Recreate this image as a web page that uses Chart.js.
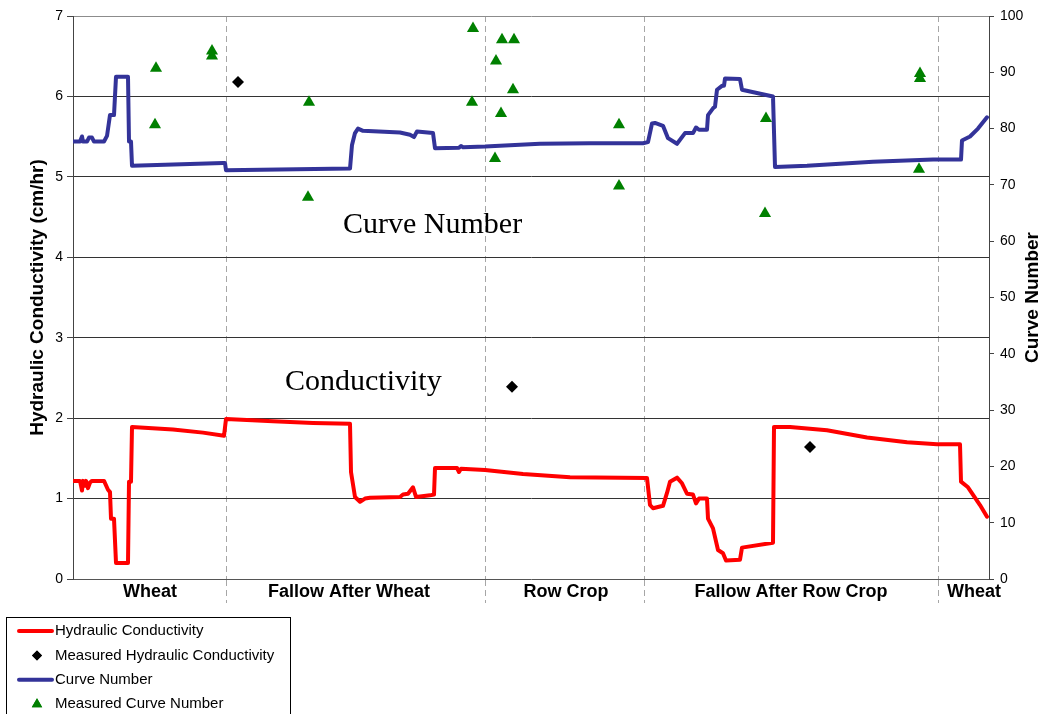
<!DOCTYPE html>
<html>
<head>
<meta charset="utf-8">
<title>Hydraulic Conductivity and Curve Number</title>
<script src="https://cdn.jsdelivr.net/npm/chart.js@4.4.1/dist/chart.umd.min.js"></script>
<style>
  html, body { margin: 0; padding: 0; background: #fff; }
  #wrap { width: 1044px; height: 714px; }
</style>
</head>
<body>
<div id="wrap"><canvas id="chart" width="1044" height="714"></canvas></div>
<script>
// Days since start of record (x)

// Hydraulic conductivity, cm/hr (left axis)
var hcDays = [0, 7, 9, 10, 12, 13, 15, 17, 19, 31, 35, 37, 38, 41, 43, 55, 56, 58, 59, 100, 130, 151,
  153, 200, 240, 277, 278, 282, 287, 292, 297, 327, 330, 335, 340, 343, 357, 361, 362, 384, 386, 388,
  412, 450, 497, 574, 577, 580, 590, 594, 597, 604, 609, 614, 620, 623, 626, 634, 635, 640, 645, 650,
  653, 667, 669, 700, 701, 717, 754, 794, 834, 864, 887, 888, 895, 907, 914];
var hcVals = [1.22, 1.22, 1.10, 1.22, 1.16, 1.22, 1.13, 1.20, 1.22, 1.22, 1.11, 1.08, 0.75, 0.75, 0.20, 0.20, 1.21, 1.21, 1.89, 1.86, 1.82, 1.78,
  1.99, 1.96, 1.94, 1.93, 1.33, 1.02, 0.96, 1.00, 1.01, 1.02, 1.05, 1.06, 1.14, 1.02, 1.04, 1.05, 1.38, 1.38, 1.33, 1.37,
  1.355, 1.305, 1.265, 1.256, 0.92, 0.88, 0.91, 1.07, 1.21, 1.26, 1.19, 1.06, 1.05, 0.94, 1.00, 1.00, 0.75, 0.63, 0.36, 0.32,
  0.23, 0.24, 0.39, 0.45, 1.89, 1.89, 1.85, 1.76, 1.70, 1.675, 1.675, 1.21, 1.14, 0.92, 0.775];

// Curve number (right axis)
var cnDays = [0, 7, 9, 10, 14, 16, 19, 21, 31, 34, 37, 41, 43, 55, 56, 58, 59, 150, 152, 153, 277, 279,
  282, 285, 290, 327, 337, 341, 344, 360, 362, 386, 388, 390, 412, 467, 517, 570, 575, 579, 582, 590,
  595, 604, 612, 620, 623, 626, 634, 635, 640, 642, 644, 649, 651, 652, 667, 669, 700, 702, 734, 800,
  860, 888, 889, 897, 905, 914];
var cnVals = [77.7, 77.7, 78.6, 77.7, 77.7, 78.4, 78.4, 77.7, 77.7, 78.7, 82.4, 82.4, 89.2, 89.2, 77.7, 77.7, 73.4, 73.9, 73.9, 72.6, 72.9, 77.1,
  79.2, 80.0, 79.6, 79.3, 78.9, 78.5, 79.5, 79.2, 76.5, 76.6, 76.9, 76.7, 76.8, 77.3, 77.4, 77.4, 77.6, 80.9, 81.0, 80.5,
  78.3, 77.3, 79.2, 79.2, 80.2, 79.8, 79.8, 82.4, 83.6, 83.9, 86.9, 87.6, 87.6, 88.9, 88.8, 86.9, 85.7, 73.2, 73.4, 74.1,
  74.5, 74.5, 77.9, 78.6, 80.0, 82.0];

// Measurements
var measHcDays = [165, 439, 737];
var measHcVals = [6.18, 2.39, 1.64];
var measCnDays = [83, 82, 139, 139, 236, 235, 400, 429, 441, 423, 440, 399, 428, 546, 422, 546, 693, 692, 847, 847, 846];
var measCnVals = [90.7, 80.7, 93.8, 92.9, 84.7, 67.8, 97.8, 95.8, 95.8, 92.0, 86.9, 84.7, 82.7, 80.7, 74.7, 69.8, 81.8, 64.9, 89.8, 88.9, 72.8];

// Crop periods along the x axis
var periodLabels = ['Wheat', 'Fallow After Wheat', 'Row Crop', 'Fallow After Row Crop', 'Wheat'];
var periodCenters = [77, 276, 493, 718, 901];
var periodBounds = [153, 412, 571, 865];

// Tick values for the two y axes
var hcTicks = [0, 1, 2, 3, 4, 5, 6, 7];
var cnTicks = [0, 10, 20, 30, 40, 50, 60, 70, 80, 90, 100];

var notes = [
  { text: 'Curve Number', day: 270, value: 4.40 },
  { text: 'Conductivity', day: 212, value: 2.45 }
];

var SANS = "'Liberation Sans', Arial, sans-serif";

function pts(xs, ys) {
  return xs.map(function(x, i) { return { x: x, y: ys[i] }; });
}

var xTickVals = periodBounds.concat(periodCenters).sort(function(a, b) { return a - b; });

// Axis titles, text notes and the boxed legend
var extras = {
  id: 'extras',
  afterDatasetsDraw: function(chart) {
    var ctx = chart.ctx, a = chart.chartArea, s = chart.scales;
    ctx.save();
    ctx.fillStyle = '#000';
    ctx.font = '30px "Liberation Serif", "Times New Roman", serif';
    ctx.textAlign = 'left';
    ctx.textBaseline = 'middle';
    notes.forEach(function(n) {
      ctx.fillText(n.text, s.x.getPixelForValue(n.day), s.yL.getPixelForValue(n.value));
    });

    var midY = (a.top + a.bottom) / 2;
    ctx.font = 'bold 19px ' + SANS;
    ctx.textAlign = 'center';
    ctx.save();
    ctx.translate(38, midY);
    ctx.rotate(-Math.PI / 2);
    ctx.fillText('Hydraulic Conductivity (cm/hr)', 0, 0);
    ctx.restore();
    ctx.save();
    ctx.translate(1033, midY);
    ctx.rotate(-Math.PI / 2);
    ctx.fillText('Curve Number', 0, 0);
    ctx.restore();

    // legend
    ctx.strokeStyle = '#000';
    ctx.lineWidth = 1;
    ctx.strokeRect(6.5, 617.5, 284, 120);
    ctx.font = '15px ' + SANS;
    ctx.textAlign = 'left';
    [0, 1, 2, 3].forEach(function(di, i) {
      var ds = chart.data.datasets[di];
      var y = 631 + i * 24.4;
      if (ds.showLine === false) {
        ctx.save();
        ctx.fillStyle = ds.backgroundColor;
        Chart.helpers.drawPoint(ctx, { pointStyle: ds.pointStyle, radius: ds.legendRadius, borderWidth: 0 }, 37, y);
        ctx.fill();
        ctx.restore();
      } else {
        ctx.strokeStyle = ds.borderColor;
        ctx.lineWidth = 4;
        ctx.lineCap = 'round';
        ctx.beginPath();
        ctx.moveTo(19, y);
        ctx.lineTo(52, y);
        ctx.stroke();
      }
      ctx.fillStyle = '#000';
      ctx.fillText(ds.label, 55, y);
    });
    ctx.restore();
  }
};

new Chart(document.getElementById('chart'), {
  type: 'line',
  data: {
    datasets: [
      { label: 'Hydraulic Conductivity', data: pts(hcDays, hcVals), yAxisID: 'yL', borderColor: '#FF0000',
        backgroundColor: '#FF0000', borderWidth: 4, borderJoinStyle: 'round', borderCapStyle: 'round',
        pointRadius: 0, tension: 0, order: 2 },
      { label: 'Measured Hydraulic Conductivity', data: pts(measHcDays, measHcVals), yAxisID: 'yL', showLine: false,
        pointStyle: 'rectRot', pointRadius: 6, legendRadius: 5, backgroundColor: '#000', borderColor: '#000', borderWidth: 0, order: 0 },
      { label: 'Curve Number', data: pts(cnDays, cnVals), yAxisID: 'yR', borderColor: '#333399',
        backgroundColor: '#333399', borderWidth: 4, borderJoinStyle: 'round', borderCapStyle: 'round',
        pointRadius: 0, tension: 0, order: 2 },
      { label: 'Measured Curve Number', data: pts(measCnDays, measCnVals), yAxisID: 'yR', showLine: false,
        pointStyle: 'triangle', pointRadius: 7, legendRadius: 6, backgroundColor: '#008000', borderColor: '#008000', borderWidth: 0, order: 0 }
    ]
  },
  options: {
    responsive: false,
    animation: false,
    events: [],
    layout: { padding: { top: 16, left: 0, right: 0, bottom: 0 } },
    plugins: { legend: { display: false }, tooltip: { enabled: false } },
    scales: {
      x: {
        type: 'linear', position: 'bottom', min: 0, max: 916,
        afterBuildTicks: function(s) { s.ticks = xTickVals.map(function(v) { return { value: v }; }); },
        afterFit: function(s) { s.height = 135; },
        ticks: {
          autoSkip: false, maxRotation: 0, padding: -22, color: '#000',
          font: { family: SANS, size: 18, weight: 'bold' },
          callback: function(v) {
            var i = periodCenters.indexOf(v);
            return i >= 0 ? periodLabels[i] : '';
          }
        },
        grid: {
          color: function(c) { return c.tick && periodBounds.indexOf(c.tick.value) >= 0 ? '#a6a6a6' : 'rgba(0,0,0,0)'; },
          tickColor: function(c) { return c.tick && periodBounds.indexOf(c.tick.value) >= 0 ? '#a6a6a6' : 'rgba(0,0,0,0)'; },
          lineWidth: 1, tickLength: 24, tickBorderDash: [6, 4]
        },
        border: { display: true, color: '#555', width: 1, dash: [6, 4] }
      },
      yL: {
        type: 'linear', position: 'left', min: 0, max: 7,
        afterBuildTicks: function(s) { s.ticks = hcTicks.map(function(v) { return { value: v }; }); },
        afterFit: function(s) { s.width = 73; },
        ticks: { color: '#000', padding: 4, font: { family: SANS, size: 14 } },
        grid: {
          color: function(c) {
            if (!c.tick) return '#333';
            if (c.tick.value === 7) return '#8c8c8c';
            if (c.tick.value === 0) return 'rgba(0,0,0,0)';
            return '#333';
          },
          tickColor: '#444', tickLength: 6, lineWidth: 1
        },
        border: { color: '#444', width: 1 }
      },
      yR: {
        type: 'linear', position: 'right', min: 0, max: 100,
        afterBuildTicks: function(s) { s.ticks = cnTicks.map(function(v) { return { value: v }; }); },
        afterFit: function(s) { s.width = 55; },
        ticks: { color: '#000', padding: 6, font: { family: SANS, size: 14 } },
        grid: { drawOnChartArea: false, tickColor: '#444', tickLength: 5 },
        border: { color: '#444', width: 1 }
      }
    }
  },
  plugins: [extras]
});
</script>
</body>
</html>
